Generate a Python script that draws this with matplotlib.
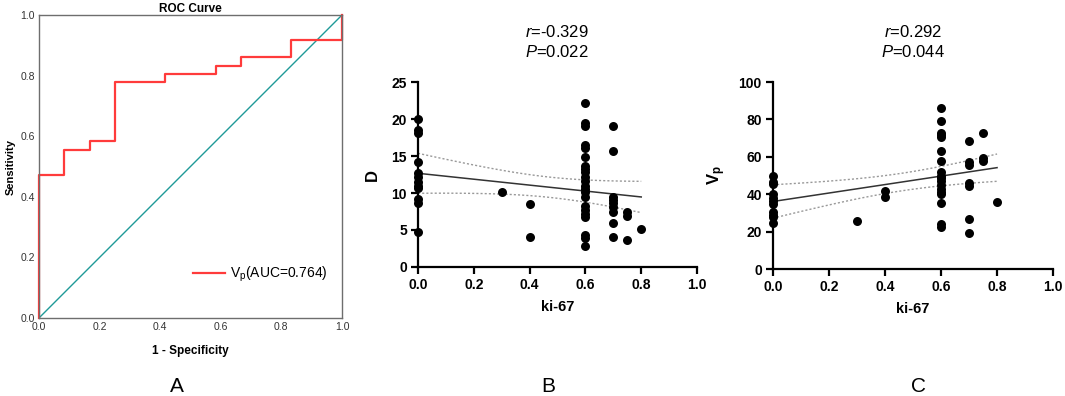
import numpy as np
import matplotlib
matplotlib.use("Agg")
import matplotlib.pyplot as plt

plt.rcParams['font.family'] = ['Liberation Sans', 'DejaVu Sans']
plt.rcParams['mathtext.fontset'] = 'custom'
plt.rcParams['mathtext.rm'] = 'Liberation Sans'
plt.rcParams['mathtext.it'] = 'Liberation Sans:italic'
plt.rcParams['mathtext.bf'] = 'Liberation Sans:bold'

# ROC curve (1 - specificity, sensitivity)
roc_fpr = [0, 0, 0.083, 0.083, 0.167, 0.167, 0.25, 0.25, 0.417, 0.417,
           0.583, 0.583, 0.667, 0.667, 0.833, 0.833, 1.0, 1.0]
roc_tpr = [0, 0.472, 0.472, 0.556, 0.556, 0.583, 0.583, 0.778, 0.778, 0.806,
           0.806, 0.833, 0.833, 0.861, 0.861, 0.917, 0.917, 1.0]
auc_label = "V$_\\mathrm{p}$(AUC=0.764)"

# ki-67 vs D
b_x = [0]*12 + [0.3] + [0.4]*2 + [0.6]*22 + [0.7]*9 + [0.75]*3 + [0.8]
b_y = [20.0, 18.5, 18.1, 14.2, 12.7, 12.2, 11.5, 11.0, 10.7, 9.2, 8.7, 4.7,
       10.1,
       8.5, 4.1,
       22.2, 19.5, 19.1, 16.5, 16.1, 14.9, 13.6, 13.2, 12.8, 12.2, 11.6, 11.0,
       10.5, 10.1, 9.5, 8.2, 7.7, 7.2, 6.8, 4.3, 3.9, 2.8,
       19.0, 15.7, 9.5, 9.1, 8.6, 8.1, 7.5, 5.9, 4.1,
       7.5, 6.9, 3.7,
       5.2]
b_stats = ["$\\mathit{r}$=-0.329", "$\\mathit{P}$=0.022"]

# ki-67 vs Vp
c_x = [0]*11 + [0.3] + [0.4]*2 + [0.6]*18 + [0.7]*7 + [0.75]*3 + [0.8]
c_y = [50.0, 46.5, 45.5, 40.0, 38.0, 36.5, 35.0, 30.5, 29.0, 28.0, 24.5,
       25.5,
       41.5, 38.5,
       86.0, 79.0, 73.0, 71.5, 70.5, 63.0, 58.0, 52.0, 50.0, 48.5, 47.0, 45.0,
       43.0, 41.0, 40.0, 35.5, 24.0, 22.5,
       68.5, 57.0, 55.5, 46.0, 44.5, 27.0, 19.5,
       72.5, 59.5, 58.0,
       36.0]
c_stats = ["$\\mathit{r}$=0.292", "$\\mathit{P}$=0.044"]

ticks01 = [0.0, 0.2, 0.4, 0.6, 0.8, 1.0]


def draw_roc(ax):
    ax.plot([0, 1], [0, 1], color='#1f9a98', lw=1.0)
    ax.plot(roc_fpr, roc_tpr, color='#ff3b3b', lw=1.6, clip_on=False)
    ax.set_xlim(0, 1)
    ax.set_ylim(0, 1)
    ax.set_xticks(ticks01)
    ax.set_yticks(ticks01)
    ax.set_xticklabels([f"{t:.1f}" for t in ticks01])
    ax.set_yticklabels([f"{t:.1f}" for t in ticks01])
    ax.tick_params(length=0, labelsize=7.5, pad=3, colors='#333333')
    for s in ax.spines.values():
        s.set_color('#6e6e6e')
        s.set_linewidth(1.0)
    ax.set_title("ROC Curve", fontsize=8.5, fontweight='bold', pad=2)
    ax.set_xlabel("1 - Specificity", fontsize=8.5, fontweight='bold', labelpad=9)
    ax.set_ylabel("Sensitivity", fontsize=8, fontweight='bold', labelpad=3)
    ax.legend([plt.Line2D([], [], color='#ff3b3b', lw=1.6)], [auc_label],
              loc='lower right', frameon=False, fontsize=10,
              handlelength=2.3, handletextpad=0.4,
              bbox_to_anchor=(0.995, 0.07))


def draw_scatter(ax, x, y, ymax, yticks, ylabel):
    x = np.asarray(x, float)
    y = np.asarray(y, float)
    n = len(x)
    b, a = np.polyfit(x, y, 1)
    xs = np.linspace(0, 0.8, 50)
    yhat = a + b*xs
    resid = y - (a + b*x)
    s = np.sqrt(np.sum(resid**2)/(n - 2))
    sxx = np.sum((x - x.mean())**2)
    se = s*np.sqrt(1/n + (xs - x.mean())**2/sxx)
    t = 2.01
    ax.plot(xs, yhat, color='#333333', lw=1.1)
    ax.plot(xs, yhat + t*se, color='#999999', lw=1.0, ls=(0, (1.5, 1.5)))
    ax.plot(xs, yhat - t*se, color='#999999', lw=1.0, ls=(0, (1.5, 1.5)))
    ax.scatter(x, y, s=42, color='black', zorder=3, clip_on=False, linewidths=0)
    ax.set_xlim(0, 1)
    ax.set_ylim(0, ymax)
    ax.set_xticks(ticks01)
    ax.set_xticklabels([f"{t:.1f}" for t in ticks01])
    ax.set_yticks(yticks)
    for sp in ['top', 'right']:
        ax.spines[sp].set_visible(False)
    for sp in ['left', 'bottom']:
        ax.spines[sp].set_linewidth(1.6)
    ax.tick_params(width=1.6, length=5, labelsize=10, pad=3)
    for lab in ax.get_xticklabels() + ax.get_yticklabels():
        lab.set_fontweight('bold')
    ax.set_xlabel("ki-67", fontsize=10.5, fontweight='bold', labelpad=6)
    ax.set_ylabel(ylabel, fontsize=12, fontweight='bold', labelpad=8)


fig = plt.figure(figsize=(10.65, 3.96), dpi=100)
ax_a = fig.add_axes([0.0366, 0.197, 0.2845, 0.765])
ax_b = fig.add_axes([0.3925, 0.3258, 0.262, 0.467])
ax_c = fig.add_axes([0.7258, 0.3207, 0.263, 0.472])

draw_roc(ax_a)
draw_scatter(ax_b, b_x, b_y, 25, [0, 5, 10, 15, 20, 25], "D")
draw_scatter(ax_c, c_x, c_y, 100, [0, 20, 40, 60, 80, 100], "$\\mathbf{V_p}$")

fig.text(557/1065, 1 - 32/396, b_stats[0], ha='center', va='center', fontsize=12)
fig.text(557/1065, 1 - 52/396, b_stats[1], ha='center', va='center', fontsize=12)
fig.text(913/1065, 1 - 32/396, c_stats[0], ha='center', va='center', fontsize=12)
fig.text(913/1065, 1 - 52/396, c_stats[1], ha='center', va='center', fontsize=12)

for lbl, xp in [("A", 177), ("B", 548), ("C", 918)]:
    fig.text(xp/1065, 1 - 387/396, lbl, ha='center', va='center', fontsize=15)

fig.savefig("out.png", dpi=100)
